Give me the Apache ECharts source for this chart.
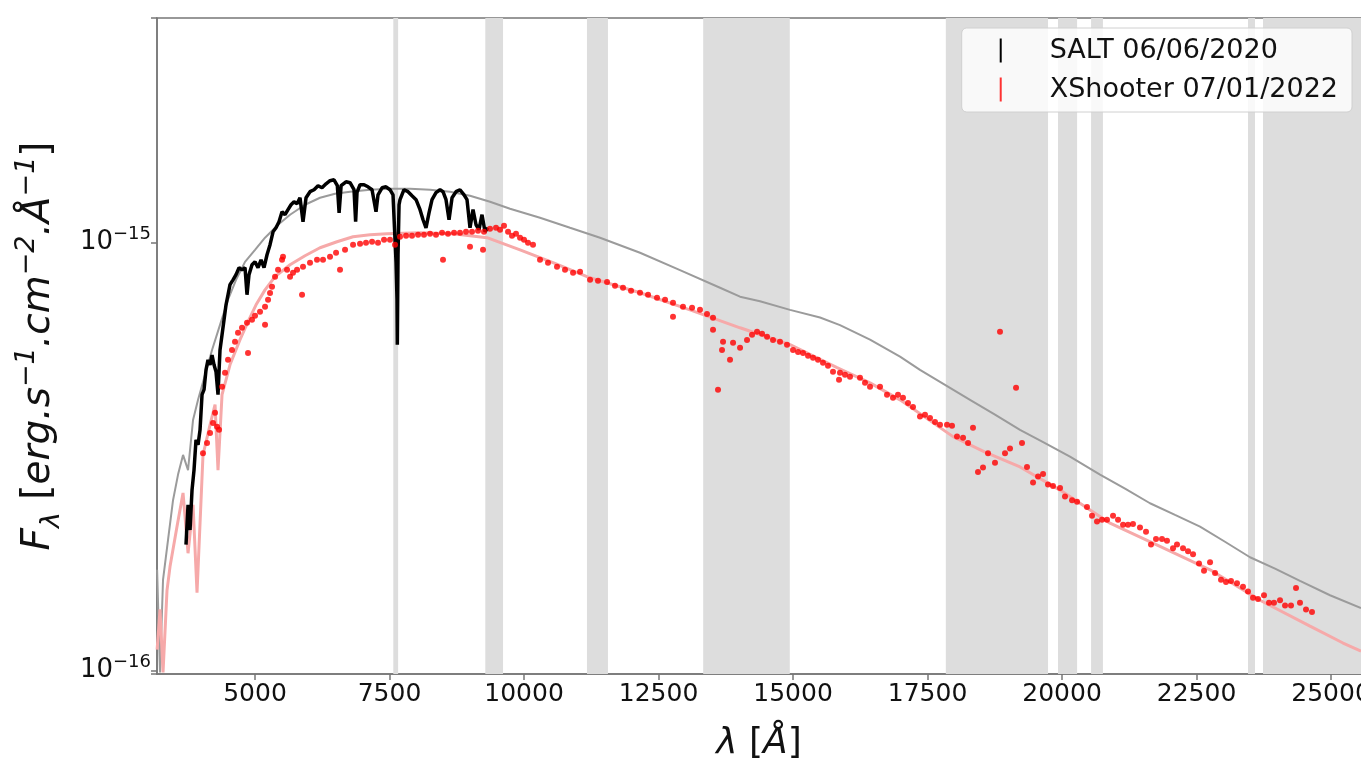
<!DOCTYPE html>
<html>
<head>
<meta charset="utf-8">
<script src="https://cdn.jsdelivr.net/npm/echarts@6/dist/echarts.min.js"></script>
<style>
html, body { margin: 0; padding: 0; background: #fff; }
#chart { width: 1361px; height: 763px; }
</style>
</head>
<body>
<div id="chart"></div>
<script>
// flux values are in units of 1e-15 erg/s/cm2/A
var fluxUnit = 1e-15;

var xTicks = [5000, 7500, 10000, 12500, 15000, 17500, 20000, 22500, 25000];

// telluric regions shaded in grey [start, end] in Angstrom
var telluricBands = [[7570, 7660], [9280, 9610], [11170, 11560], [13330, 14940], [17840, 19740],
  [19925, 20280], [20540, 20760], [23457, 23587], [23736, 26000]];

// stellar model (grey)
var modelGrey = [[3180,0.172],[3234,0.099],[3290,0.163],[3383,0.202],[3476,0.250],[3569,0.287],[3662,0.319],
  [3755,0.294],[3848,0.385],[3941,0.429],[4071,0.491],[4201,0.561],[4349,0.642],[4498,0.735],[4647,0.818],
  [4814,0.901],[5000,0.961],[5186,1.026],[5428,1.100],[5651,1.161],[5929,1.225],[6208,1.272],[6487,1.300],
  [6766,1.314],[7138,1.328],[7509,1.335],[7881,1.335],[8253,1.328],[8624,1.314],[8996,1.286],[9368,1.245],
  [9740,1.199],[10297,1.142],[10855,1.082],[11413,1.026],[12156,0.946],[12899,0.862],[13643,0.784],
  [14015,0.747],[14386,0.729],[14944,0.696],[15502,0.668],[15873,0.641],[16431,0.593],[16989,0.541],
  [17360,0.504],[17825,0.465],[18290,0.429],[18754,0.396],[19219,0.365],[19684,0.340],[20148,0.316],
  [20706,0.287],[21171,0.266],[21635,0.246],[22100,0.231],[22565,0.217],[23029,0.200],[23494,0.184],
  [23959,0.173],[24423,0.162],[24981,0.150],[25557,0.140]];

// reddened model (pink)
var modelPink = [[3180,0.112],[3234,0.139],[3290,0.099],[3364,0.154],[3420,0.175],[3550,0.217],[3662,0.260],
  [3755,0.188],[3848,0.244],[3922,0.152],[4033,0.319],[4164,0.375],[4257,0.418],[4312,0.294],[4387,0.441],
  [4535,0.518],[4721,0.593],[4870,0.653],[5019,0.715],[5186,0.775],[5372,0.832],[5651,0.887],[5929,0.931],
  [6208,0.972],[6524,1.004],[6822,1.031],[7138,1.042],[7453,1.048],[8067,1.054],[8680,1.048],[9312,1.026],
  [9926,0.961],[10539,0.897],[11227,0.827],[12156,0.763],[13085,0.696],[14015,0.632],[14944,0.577],
  [15818,0.510],[16431,0.470],[16989,0.429],[17974,0.352],[18569,0.324],[19219,0.299],[19963,0.264],
  [20892,0.221],[21821,0.195],[22751,0.172],[23680,0.146],[24609,0.127],[25223,0.116],[25557,0.111]];

// SALT 06/06/2020
var saltSpec = [[3717,0.197],[3755,0.244],[3792,0.213],[3829,0.264],[3866,0.294],[3903,0.346],[3941,0.337],
  [3978,0.365],[4015,0.441],[4052,0.453],[4089,0.504],[4126,0.532],[4164,0.518],[4201,0.546],[4238,0.518],
  [4275,0.499],[4312,0.441],[4349,0.561],[4387,0.609],[4424,0.660],[4461,0.715],[4498,0.755],[4535,0.797],
  [4591,0.818],[4647,0.841],[4703,0.873],[4758,0.863],[4814,0.873],[4851,0.755],[4888,0.841],[4944,0.887],
  [5000,0.901],[5056,0.873],[5112,0.911],[5167,0.873],[5223,0.936],[5279,0.988],[5335,1.059],[5390,1.082],
  [5446,1.118],[5502,1.180],[5558,1.161],[5613,1.193],[5669,1.225],[5725,1.245],[5781,1.232],[5836,1.272],
  [5892,1.118],[5948,1.272],[6022,1.314],[6097,1.328],[6171,1.357],[6245,1.342],[6320,1.371],[6394,1.394],
  [6468,1.401],[6530,1.357],[6563,1.173],[6600,1.357],[6691,1.386],[6766,1.379],[6840,1.328],[6870,1.118],
  [6896,1.310],[6952,1.364],[7026,1.364],[7100,1.349],[7175,1.328],[7249,1.180],[7286,1.292],[7361,1.342],
  [7435,1.349],[7509,1.328],[7565,1.292],[7602,1.015],[7621,0.901],[7639,0.735],[7645,0.577],[7658,0.936],
  [7677,1.225],[7695,1.259],[7769,1.328],[7844,1.314],[7918,1.286],[7993,1.259],[8067,1.193],[8123,1.130],
  [8178,1.082],[8234,1.173],[8290,1.259],[8364,1.307],[8439,1.328],[8494,1.314],[8550,1.259],[8606,1.130],
  [8662,1.272],[8736,1.314],[8810,1.328],[8885,1.292],[8940,1.259],[8996,1.082],[9052,1.193],[9108,1.100],
  [9163,1.071],[9219,1.161],[9275,1.059],[9331,1.082]];

// XShooter 07/01/2022
var xshooterSpec = [[4033,0.322],[4108,0.340],[4164,0.359],[4219,0.379],[4257,0.400],[4294,0.371],[4331,0.365],
  [4387,0.460],[4442,0.496],[4498,0.532],[4572,0.561],[4628,0.586],[4684,0.615],[4758,0.632],[4851,0.649],
  [4870,0.552],[4944,0.660],[5000,0.674],[5093,0.689],[5186,0.708],[5186,0.642],[5242,0.735],[5279,0.762],
  [5316,0.788],[5372,0.832],[5428,0.863],[5502,0.911],[5520,0.926],[5595,0.863],[5651,0.832],[5706,0.850],
  [5781,0.863],[5874,0.755],[5892,0.877],[6022,0.897],[6152,0.911],[6264,0.911],[6394,0.926],[6506,0.946],
  [6580,0.863],[6673,0.961],[6822,0.988],[6952,0.993],[7063,0.998],[7175,1.004],[7286,0.998],[7398,1.015],
  [7509,1.015],[7602,0.988],[7695,1.031],[7807,1.037],[7918,1.037],[8030,1.042],[8141,1.042],[8253,1.048],
  [8364,1.042],[8476,1.054],[8494,0.911],[8587,1.048],[8699,1.054],[8810,1.054],[8922,1.059],[8996,0.977],
  [9033,1.059],[9145,1.065],[9238,0.961],[9256,1.059],[9368,1.077],[9479,1.082],[9554,1.071],[9628,1.094],
  [9703,1.059],[9777,1.037],[9851,1.048],[9926,1.026],[10000,1.015],[10074,0.998],[10167,0.988],
  [10297,0.911],[10446,0.897],[10613,0.877],[10762,0.863],[10911,0.850],[11041,0.854],[11227,0.818],
  [11375,0.814],[11543,0.809],[11691,0.792],[11840,0.784],[11989,0.771],[12156,0.763],[12305,0.755],
  [12472,0.743],[12621,0.735],[12769,0.723],[12769,0.671],[12955,0.708],[13123,0.704],[13271,0.696],
  [13401,0.681],[13513,0.667],[13513,0.625],[13606,0.453],[13680,0.561],[13699,0.586],[13829,0.532],
  [13885,0.583],[14015,0.568],[14145,0.592],[14238,0.609],[14331,0.619],[14424,0.612],[14517,0.602],
  [14628,0.592],[14758,0.586],[14888,0.577],[15000,0.561],[15093,0.555],[15186,0.552],[15279,0.544],
  [15372,0.538],[15464,0.532],[15557,0.524],[15650,0.515],[15743,0.499],[15855,0.478],[15873,0.496],
  [15966,0.491],[16059,0.486],[16245,0.483],[16338,0.470],[16431,0.460],[16617,0.460],[16747,0.441],
  [16858,0.434],[16951,0.441],[17044,0.434],[17137,0.422],[17230,0.413],[17360,0.392],[17453,0.396],
  [17546,0.389],[17639,0.381],[17732,0.375],[17862,0.375],[17955,0.373],[18048,0.352],[18160,0.350],
  [18253,0.340],[18345,0.369],[18438,0.291],[18531,0.298],[18624,0.322],[18754,0.306],[18847,0.619],
  [18940,0.322],[19033,0.330],[19145,0.458],[19256,0.340],[19349,0.299],[19461,0.275],[19554,0.284],
  [19647,0.288],[19739,0.272],[19832,0.270],[19963,0.267],[20055,0.255],[20186,0.250],[20279,0.248],
  [20464,0.241],[20557,0.230],[20650,0.223],[20743,0.225],[20836,0.225],[20948,0.230],[21041,0.225],
  [21134,0.219],[21226,0.219],[21319,0.220],[21449,0.216],[21561,0.211],[21654,0.197],[21747,0.203],
  [21858,0.203],[21951,0.201],[22063,0.193],[22137,0.197],[22249,0.193],[22342,0.190],[22435,0.187],
  [22546,0.178],[22639,0.171],[22751,0.179],[22844,0.169],[22955,0.163],[23048,0.161],[23141,0.162],
  [23252,0.160],[23364,0.157],[23457,0.153],[23550,0.148],[23643,0.147],[23754,0.150],[23847,0.144],
  [23940,0.144],[24052,0.146],[24145,0.142],[24256,0.142],[24349,0.156],[24423,0.144],[24535,0.139],
  [24646,0.137]];

function toFlux(arr) {
  return arr.map(function (p) { return [p[0], p[1] * fluxUnit]; });
}

var font = 'DejaVu Sans';
var axisColor = '#777';

var chart = echarts.init(document.getElementById('chart'));
chart.setOption({
  animation: false,
  textStyle: { fontFamily: font },
  grid: {
    left: 157, right: 0, top: 18, bottom: 89,
    containLabel: false, outerBoundsMode: 'none',
    show: true, borderColor: axisColor, borderWidth: 1.5
  },
  legend: {
    data: [{ name: 'SALT 06/06/2020', icon: 'rect' }, { name: 'XShooter 07/01/2022', icon: 'rect' }],
    orient: 'vertical',
    right: 9,
    top: 28,
    itemWidth: 2,
    itemHeight: 24,
    itemGap: 12,
    padding: [9, 14, 9, 38],
    backgroundColor: 'rgba(255,255,255,0.82)',
    borderColor: '#d0d0d0',
    borderWidth: 1,
    borderRadius: 5,
    textStyle: { fontSize: 27, color: '#111', fontFamily: font, padding: [0, 0, 0, 43] }
  },
  xAxis: {
    type: 'value',
    min: 3178,
    max: 25557,
    splitLine: { show: false },
    axisLine: { lineStyle: { color: axisColor, width: 1.5 } },
    axisTick: { customValues: xTicks, length: 6, lineStyle: { color: axisColor, width: 1.5 } },
    axisLabel: {
      customValues: xTicks, fontSize: 25, color: '#111', margin: 8,
      formatter: function (v) { return String(v); }
    },
    name: '{i|λ} [{i|Å}]',
    nameLocation: 'middle',
    nameGap: 52,
    nameTextStyle: { fontSize: 36, color: '#111', rich: { i: { fontSize: 36, fontStyle: 'italic', color: '#111' } } }
  },
  yAxis: {
    type: 'log',
    logBase: 10,
    min: 9.82e-17,
    max: 3.344e-15,
    splitLine: { show: false },
    axisLine: { lineStyle: { color: axisColor, width: 1.5 } },
    axisTick: { length: 6, lineStyle: { color: axisColor, width: 1.5 } },
    axisLabel: {
      margin: 6,
      formatter: function (v) {
        var e = Math.log10(v);
        if (Math.abs(e - Math.round(e)) > 1e-6) return '';
        return '{b|10}{s|\u2212' + (-Math.round(e)) + '}';
      },
      rich: {
        b: { fontSize: 26, color: '#111', lineHeight: 34 },
        s: { fontSize: 18, color: '#111', verticalAlign: 'top', lineHeight: 18 }
      }
    },
    name: '{i|F}{sub|λ} [{i|erg.s}{sup|\u22121}{i|.cm}{sup|\u22122}{i|.Å}{sup|\u22121}]',
    nameLocation: 'middle',
    nameGap: 92,
    nameRotate: 90,
    nameTextStyle: {
      fontSize: 39, color: '#111', lineHeight: 52,
      rich: {
        i: { fontSize: 39, fontStyle: 'italic', color: '#111', lineHeight: 52 },
        sub: { fontSize: 27, fontStyle: 'italic', color: '#111', verticalAlign: 'bottom', lineHeight: 24 },
        sup: { fontSize: 27, fontStyle: 'italic', color: '#111', verticalAlign: 'top', lineHeight: 24 }
      }
    }
  },
  series: [
    {
      name: 'bands',
      type: 'line',
      data: [],
      silent: true,
      z: 1,
      markArea: {
        silent: true,
        itemStyle: { color: '#dddddd' },
        data: telluricBands.map(function (b) { return [{ xAxis: b[0] }, { xAxis: b[1] }]; })
      }
    },
    {
      name: 'model',
      type: 'line',
      data: toFlux(modelGrey),
      showSymbol: false,
      z: 2,
      lineStyle: { color: '#9b9b9b', width: 2 },
      itemStyle: { color: '#9b9b9b' }
    },
    {
      name: 'model reddened',
      type: 'line',
      data: toFlux(modelPink),
      showSymbol: false,
      z: 3,
      lineStyle: { color: '#f6a9a9', width: 3 },
      itemStyle: { color: '#f6a9a9' }
    },
    {
      name: 'SALT 06/06/2020',
      type: 'line',
      data: toFlux(saltSpec),
      showSymbol: false,
      z: 4,
      lineStyle: { color: '#000', width: 3.5, join: 'bevel' },
      itemStyle: { color: '#000' }
    },
    {
      name: 'XShooter 07/01/2022',
      type: 'scatter',
      data: toFlux(xshooterSpec),
      symbolSize: 6,
      z: 5,
      itemStyle: { color: '#ff0000' }
    }
  ]
});
</script>
</body>
</html>
